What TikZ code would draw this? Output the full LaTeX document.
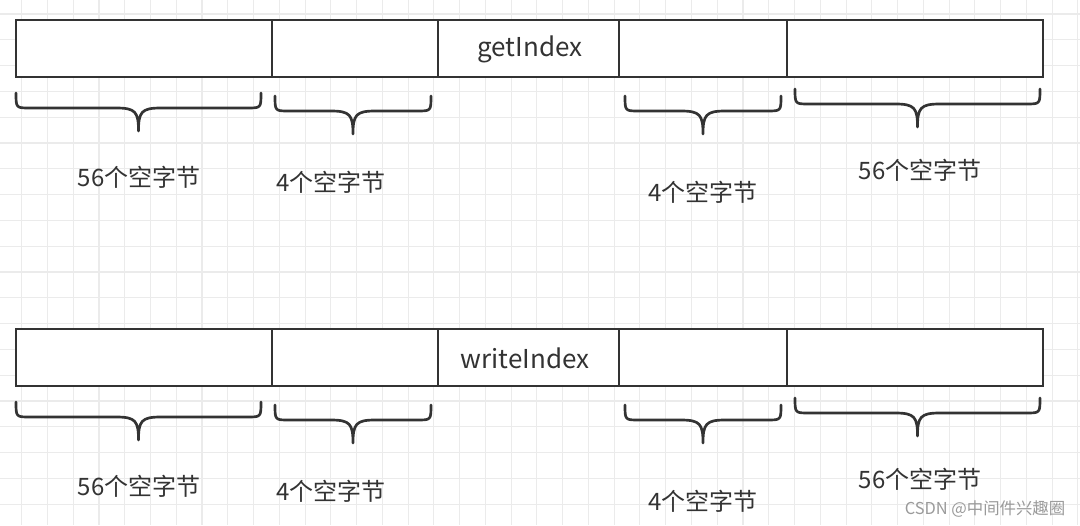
\documentclass[tikz,border=0pt]{standalone}
\usepackage{fontspec}
\setmainfont{Noto Sans CJK SC}
\begin{document}
\begin{tikzpicture}[x=0.75pt,y=-0.75pt,
  ink/.style={draw=inkc, line width=2pt},
  cell/.style={ink, fill=white, inner sep=0pt, minimum height=57*0.75pt},
  celltext/.style={text=inkc, font=\fontsize{19.5}{22}\selectfont},
  lbl/.style={text=inkc, font=\fontsize{18}{21}\selectfont, inner sep=0pt},
  gridline/.style={draw=gridc, line width=0.8pt},
  curlyline/.style={draw=inkc, line width=2pt, line cap=round, line join=round}]
\definecolor{inkc}{HTML}{333333}
\definecolor{gridc}{HTML}{EBEBEB}
\definecolor{wmc}{HTML}{9A9A9A}
\useasboundingbox (0,0) rectangle (1080,525);
\fill[white] (0,0) rectangle (1080,525);
% grid
\foreach \i in {0,...,41} \draw[gridline] ({21.7+25.76*\i},0) -- ({21.7+25.76*\i},525);
\foreach \j in {0,...,19} \draw[gridline] (0,{14+25.8*\j}) -- (1080,{14+25.8*\j});
% brace macro: xa, xb, y0, y1
\newcommand\mycurly[4]{%
  \pgfmathsetmacro\xm{(#1+#2)/2}%
  \pgfmathsetmacro\ym{#3+15}%
  \draw[curlyline] (#1,#3) .. controls (#1,\ym) .. ({#1+14},\ym) -- ({\xm-22},\ym)
    .. controls ({\xm-3},\ym) and (\xm,{\ym+4}) .. (\xm,#4)
    .. controls (\xm,{\ym+4}) and ({\xm+3},\ym) .. ({\xm+22},\ym)
    -- ({#2-14},\ym) .. controls (#2,\ym) .. (#2,#3);}
% row 1
\node[cell, minimum width=256*0.75pt] (a1) at (144,48.5) {};
\node[cell, minimum width=166*0.75pt] (a2) at (355,48.5) {};
\node[cell, minimum width=181*0.75pt] (a3) at (528.5,48.5) {};
\node[cell, minimum width=168*0.75pt] (a4) at (703,48.5) {};
\node[cell, minimum width=256*0.75pt] (a5) at (915,48.5) {};
\node[celltext] (t1) at (530,49) {getIndex};
\mycurly{16}{261}{93}{131}
\mycurly{275}{431}{96}{134}
\mycurly{625}{781}{96}{134}
\mycurly{795}{1040}{89}{127}
\node[lbl] (l1) at (139,177) {56个空字节};
\node[lbl] (l2) at (331,182) {4个空字节};
\node[lbl] (l3) at (703,192) {4个空字节};
\node[lbl] (l4) at (920,170) {56个空字节};
% row 2
\node[cell, minimum width=256*0.75pt] (b1) at (144,357.5) {};
\node[cell, minimum width=166*0.75pt] (b2) at (355,357.5) {};
\node[cell, minimum width=181*0.75pt] (b3) at (528.5,357.5) {};
\node[cell, minimum width=168*0.75pt] (b4) at (703,357.5) {};
\node[cell, minimum width=256*0.75pt] (b5) at (915,357.5) {};
\node[celltext] (t2) at (525,358) {writeIndex};
\mycurly{16}{261}{402}{440}
\mycurly{275}{431}{405}{443}
\mycurly{625}{781}{405}{443}
\mycurly{795}{1040}{398}{436}
\node[lbl] (m1) at (139,486) {56个空字节};
\node[lbl] (m2) at (331,491) {4个空字节};
\node[lbl] (m3) at (703,501) {4个空字节};
\node[lbl] (m4) at (920,479) {56个空字节};
% watermark
\node[text=wmc, font=\fontsize{12.3}{14}\selectfont, inner sep=0pt] (wm) at (985,509) {CSDN @中间件兴趣圈};
\end{tikzpicture}
\end{document}
